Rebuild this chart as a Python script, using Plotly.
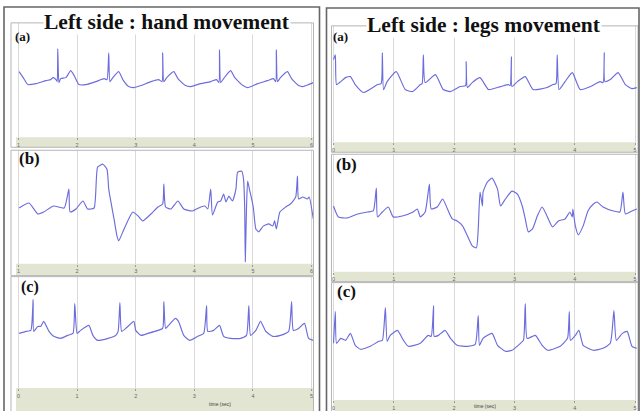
import plotly.graph_objects as go

W, H = 641, 411

# ---------------- data (time in s, amplitude in arbitrary units) ----------------
hand_a_t = [1.01,1.08,1.16,1.30,1.47,1.55,1.59,1.64,1.66,1.67,1.69,1.72,1.81,1.89,1.95,2.03,2.15,2.32,2.46,2.51,
            2.54,2.56,2.61,2.71,2.78,2.88,2.97,3.09,3.26,3.39,3.45,3.46,3.48,3.53,3.65,3.72,3.85,3.94,4.11,4.28,
            4.38,4.42,4.43,4.45,4.50,4.62,4.69,4.83,4.91,5.08,5.25,5.35,5.39,5.40,5.42,5.47,5.59,5.66,5.78,5.85,
            5.95,6.03]
hand_a_v = [66,60,53,54,57,58,60,58,56,89,55,59,60,67,62,53,53,56,59,58,
            85,56,60,66,58,51,50,52,56,58,56,85,56,60,66,59,52,51,54,56,
            58,55,88,55,59,67,60,52,50,54,57,59,56,88,56,60,66,59,52,51,
            53,55]

hand_b_t = [1.01,1.18,1.33,1.43,1.60,1.78,1.86,1.88,1.98,2.10,2.18,2.29,2.35,2.44,2.51,2.54,2.63,2.68,2.71,2.78,
            2.88,2.95,3.04,3.12,3.26,3.38,3.46,3.48,3.51,3.60,3.72,3.82,3.97,4.11,4.18,4.23,4.28,4.31,4.40,4.45,
            4.50,4.54,4.59,4.65,4.71,4.74,4.81,4.84,4.86,4.87,4.89,4.91,4.94,4.99,5.01,5.05,5.10,5.18,5.27,5.34,
            5.37,5.40,5.46,5.56,5.64,5.73,5.76,5.78,5.85,5.93,5.96,6.03]
hand_b_v = [56,61,50,52,58,56,75,52,55,63,55,56,97,100,95,75,45,28,23,32,
            45,52,48,43,50,57,60,80,57,55,63,55,53,57,58,55,75,49,62,63,
            70,62,68,63,75,92,93,85,55,2,55,83,75,62,55,35,32,38,40,38,
            43,35,52,57,60,67,88,65,67,65,67,45]

hand_c_t = [0.01,0.13,0.21,0.25,0.26,0.33,0.38,0.43,0.52,0.60,0.72,0.84,0.93,0.96,1.00,1.06,1.20,1.27,1.35,1.53,
            1.66,1.70,1.73,1.76,1.83,1.97,2.00,2.09,2.21,2.38,2.46,2.48,2.51,2.56,2.68,2.73,2.82,2.92,3.06,3.16,
            3.21,3.23,3.33,3.43,3.50,3.62,3.79,3.89,3.93,3.96,4.05,4.13,4.22,4.34,4.47,4.61,4.66,4.69,4.78,4.88,
            4.95,5.03]
hand_c_v = [55,57,58,89,57,62,62,67,57,52,50,53,55,85,55,58,63,53,48,50,
            53,57,86,57,60,67,58,53,55,58,60,87,60,63,70,67,53,48,52,55,
            83,57,58,63,52,50,50,53,83,53,58,67,57,52,53,57,87,58,60,65,
            50,48]

legs_a_t = [0.00,0.03,0.05,0.12,0.20,0.28,0.36,0.50,0.73,0.79,0.81,0.83,0.89,1.04,1.19,1.31,1.44,1.47,1.49,1.52,
            1.69,1.82,1.94,2.10,2.19,2.20,2.22,2.30,2.43,2.57,2.77,2.90,2.93,2.95,2.96,3.05,3.18,3.31,3.54,3.64,
            3.69,3.71,3.74,3.84,3.96,4.09,4.26,4.42,4.47,4.49,4.50,4.59,4.72,4.84,4.95,5.03]
legs_a_v = [83,88,58,61,65,66,58,50,58,59,90,53,61,71,53,51,58,59,88,60,
            68,53,51,56,57,81,55,60,65,53,56,58,57,86,56,61,66,53,55,58,
            59,88,53,61,70,53,56,61,60,90,61,63,70,58,54,55]

legs_b_t = [0.00,0.08,0.23,0.40,0.56,0.66,0.71,0.73,0.81,0.91,0.99,1.14,1.32,1.39,1.44,1.52,1.59,1.62,1.72,1.81,
            1.89,1.97,2.05,2.14,2.22,2.30,2.37,2.40,2.43,2.47,2.48,2.55,2.63,2.72,2.77,2.85,2.96,3.05,3.13,3.18,
            3.23,3.30,3.38,3.46,3.54,3.63,3.73,3.84,3.92,3.96,3.97,4.01,4.06,4.14,4.22,4.31,4.37,4.47,4.64,4.75,
            4.80,4.84,4.95,5.03]
legs_b_v = [66,55,54,58,60,61,84,55,60,65,55,56,60,63,55,60,88,63,65,73,
            63,53,51,46,36,26,24,43,80,66,80,90,94,83,66,73,81,78,66,53,
            40,43,56,65,56,45,51,53,60,55,63,46,37,46,61,68,70,65,61,60,
            80,58,61,63]

legs_c_t = [0.00,0.03,0.05,0.12,0.20,0.28,0.36,0.45,0.61,0.75,0.81,0.86,0.89,0.94,1.06,1.16,1.24,1.44,1.57,1.62,
            1.66,1.67,1.74,1.85,1.94,2.05,2.22,2.35,2.40,2.42,2.48,2.63,2.72,2.85,2.96,3.10,3.15,3.18,3.21,3.30,
            3.35,3.46,3.56,3.76,3.88,3.91,3.93,4.01,4.07,4.14,4.31,4.47,4.59,4.65,4.69,4.79,4.87,4.95,5.03]
legs_c_v = [57,89,57,62,60,67,55,51,54,59,60,93,59,65,70,60,54,57,65,64,
            95,64,65,70,62,55,54,56,85,55,62,67,55,49,50,57,60,97,62,64,
            65,55,50,54,62,89,60,65,70,55,50,52,57,90,60,67,69,54,52]

ticks_1_6 = [1, 2, 3, 4, 5, 6]
ticks_0_5 = [0, 1, 2, 3, 4, 5]
tick_text_1_6 = ["1", "2", "3", "4", "5", "6"]
tick_text_0_5 = ["0", "1", "2", "3", "4", "5"]

panel_titles = ["Left side : hand movement", "Left side : legs movement"]
sub_labels = ["(a)", "(b)", "(c)"]
x_title = "time (sec)"

# ---------------- layout geometry (pixels) ----------------
def fx(p):
    return p / W

def fy(p):
    return 1 - p / H

LINE = "#6c6cdc"
BAND = "#e2e5d2"
GRID = "#dadada"

subplots = [
    dict(t=hand_a_t, v=hand_a_v, xd=(16, 313), yt=23, yb=138, xr=(0.974, 6.034),
         tv=ticks_1_6, tt=tick_text_1_6, box=(10, 313, 23, 148), band=(15, 313, 138, 148)),
    dict(t=hand_b_t, v=hand_b_v, xd=(16, 313), yt=151, yb=265, xr=(0.974, 6.034),
         tv=ticks_1_6, tt=tick_text_1_6, box=(10, 313, 151, 277), band=(15, 313, 265, 277)),
    dict(t=hand_c_t, v=hand_c_v, xd=(16, 313), yt=278, yb=390, xr=(-0.026, 5.034),
         tv=ticks_0_5, tt=tick_text_0_5, box=(10, 313, 278, 420), band=(15, 313, 390, 420)),
    dict(t=legs_a_t, v=legs_a_v, xd=(332, 637), yt=26, yb=143, xr=(-0.017, 5.033),
         tv=ticks_0_5, tt=tick_text_0_5, box=(331, 638, 26, 153), band=(333, 636, 143, 153)),
    dict(t=legs_b_t, v=legs_b_v, xd=(332, 637), yt=155, yb=273, xr=(-0.017, 5.033),
         tv=ticks_0_5, tt=tick_text_0_5, box=(331, 638, 155, 283), band=(333, 636, 273, 283)),
    dict(t=legs_c_t, v=legs_c_v, xd=(332, 637), yt=284, yb=402, xr=(-0.017, 5.033),
         tv=ticks_0_5, tt=tick_text_0_5, box=(331, 638, 284, 420), band=(333, 636, 402, 420)),
]

fig = go.Figure()
shapes = []
layout_axes = {}

for i, sp in enumerate(subplots, start=1):
    xa = "x" if i == 1 else f"x{i}"
    ya = "y" if i == 1 else f"y{i}"
    fig.add_trace(go.Scatter(x=sp["t"], y=sp["v"], mode="lines",
                             line=dict(color=LINE, width=1.15, shape="spline", smoothing=0.5),
                             xaxis=xa, yaxis=ya, showlegend=False, hoverinfo="skip"))
    kx = "xaxis" if i == 1 else f"xaxis{i}"
    ky = "yaxis" if i == 1 else f"yaxis{i}"
    layout_axes[kx] = dict(domain=[fx(sp["xd"][0]), fx(sp["xd"][1])], range=list(sp["xr"]),
                           anchor=ya, tickvals=sp["tv"], ticktext=sp["tt"],
                           showgrid=True, gridcolor=GRID, gridwidth=1,
                           zeroline=False, showline=False, ticks="outside", ticklen=2,
                           tickcolor="#999", tickfont=dict(size=5.5, color="#666", family="Liberation Sans"),
                           fixedrange=True)
    h = sp["yb"] - sp["yt"]
    layout_axes[ky] = dict(domain=[fy(sp["yb"]), fy(sp["yt"])], range=[0, h],
                           anchor=xa, showgrid=False, zeroline=False, showline=False,
                           showticklabels=False, ticks="", fixedrange=True)
    bx = sp["band"]
    shapes.append(dict(type="rect", xref="paper", yref="paper", layer="below",
                       x0=fx(bx[0]), x1=fx(bx[1]), y0=fy(bx[3]), y1=fy(bx[2]),
                       fillcolor=BAND, line=dict(width=0)))
    b = sp["box"]
    shapes.append(dict(type="rect", xref="paper", yref="paper", layer="above",
                       x0=fx(b[0]), x1=fx(b[1]), y0=fy(b[3]), y1=fy(b[2]),
                       fillcolor="rgba(0,0,0,0)", line=dict(color="#b5b5b5", width=1)))

# outer panel borders
for (x0, x1, y0) in [(3, 319, 7), (326, 639, 8)]:
    shapes.append(dict(type="rect", xref="paper", yref="paper", layer="above",
                       x0=fx(x0), x1=fx(x1), y0=fy(425), y1=fy(y0),
                       fillcolor="rgba(0,0,0,0)", line=dict(color="#666666", width=1.6)))

annotations = []
serif = "Liberation Serif"
for text, xc, yc in [(panel_titles[0], 166, 22), (panel_titles[1], 484, 25)]:
    annotations.append(dict(text=f"<b>{text}</b>", x=fx(xc), y=fy(yc), xref="paper", yref="paper",
                            showarrow=False, xanchor="center", yanchor="middle",
                            font=dict(family=serif, size=21.5, color="#111"),
                            bgcolor="white", borderpad=0))

label_pos = [
    (sub_labels[0], 22, 37, 13), (sub_labels[1], 29, 159, 17), (sub_labels[2], 29, 288, 16),
    (sub_labels[0], 340, 37, 13), (sub_labels[1], 346, 165, 17), (sub_labels[2], 346, 293, 17),
]
for text, xc, yc, sz in label_pos:
    annotations.append(dict(text=f"<b>{text}</b>", x=fx(xc), y=fy(yc), xref="paper", yref="paper",
                            showarrow=False, xanchor="center", yanchor="middle",
                            font=dict(family=serif, size=sz, color="#111")))

for xc, yc in [(219, 405.5), (485, 408)]:
    annotations.append(dict(text=x_title, x=fx(xc), y=fy(yc), xref="paper", yref="paper",
                            showarrow=False, xanchor="center", yanchor="middle",
                            font=dict(family="Liberation Sans", size=5, color="#444")))

fig.update_layout(
    width=W, height=H, margin=dict(l=0, r=0, t=0, b=0),
    paper_bgcolor="white", plot_bgcolor="rgba(0,0,0,0)",
    shapes=shapes, annotations=annotations, showlegend=False,
    **layout_axes,
)

fig.write_html("out.html", config={"displayModeBar": False})
